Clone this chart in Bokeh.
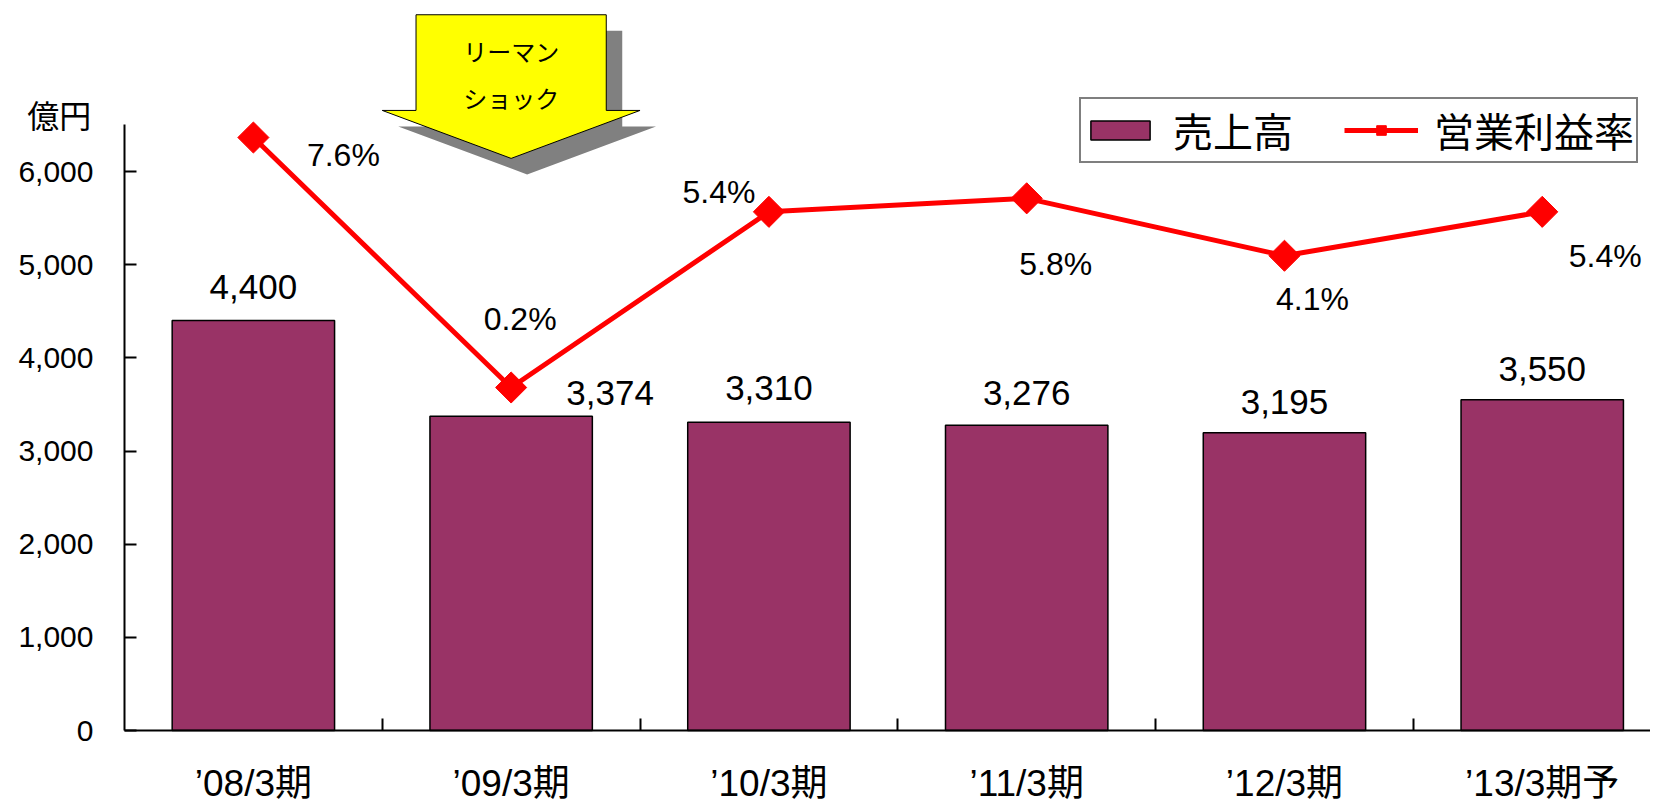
from bokeh.plotting import figure
from bokeh.models import (ColumnDataSource, Range1d, LinearAxis, FixedTicker,
                          NumeralTickFormatter, Legend, LegendItem, Label)
from bokeh.embed import file_html
from bokeh.resources import INLINE
from bokeh.core.properties import value

# ---------------- data ----------------
periods = ["’08/3期", "’09/3期", "’10/3期", "’11/3期", "’12/3期", "’13/3期予"]
sales = [4400, 3374, 3310, 3276, 3195, 3550]          # 売上高 (億円)
op_margin = [7.6, 0.2, 5.4, 5.8, 4.1, 5.4]            # 営業利益率 (%)
y_ticks = [0, 1000, 2000, 3000, 4000, 5000, 6000]
shock_period = "’09/3期"

# ---------------- label placement (styles, not data) ----------------
sales_dx = [0, 99, 0, 0, 0, 0]
sales_dy = [-34, -23, -34, -32, -31, -31]
pct_dx = [90, 9, -50, 29, 28, 63]
pct_dy = [17, -68, -20, 66, 43, 44]

LATIN = "Liberation Sans"
CJK = "Noto Sans CJK JP"

x_idx = list(range(len(periods)))
src = ColumnDataSource(dict(
    x=x_idx, sales=sales, margin=op_margin,
    sales_txt=[f"{v:,}" for v in sales],
    pct_txt=[f"{m}%" for m in op_margin],
    sdx=sales_dx, sdy=sales_dy, pdx=pct_dx, pdy=pct_dy,
))

X0 = -0.5          # left end of the category axis
X_LEFT = -0.981    # frame extends left so the y-axis labels live inside it
X_RIGHT = 5.42

p = figure(width=1650, height=805,
           x_range=Range1d(X_LEFT, X_RIGHT), y_range=Range1d(-805, 7836),
           output_backend="svg", toolbar_location=None,
           x_axis_type=None, y_axis_type=None,
           min_border_left=0, min_border_right=0,
           min_border_top=0, min_border_bottom=0)
p.extra_y_ranges = {"pct": Range1d(-12.174, 11.656)}
p.grid.visible = False
p.outline_line_color = None
p.background_fill_color = "white"

# ---------------- axes ----------------
yaxis = LinearAxis(ticker=FixedTicker(ticks=y_ticks),
                   formatter=NumeralTickFormatter(format="0,0"),
                   bounds=(0, 6500), fixed_location=X0)
yaxis.major_tick_in = 12
yaxis.major_tick_out = 0
yaxis.minor_tick_in = 0
yaxis.minor_tick_out = 0
yaxis.axis_line_width = 2
yaxis.major_tick_line_width = 2
yaxis.major_label_standoff = 31
yaxis.major_label_text_font = LATIN
yaxis.major_label_text_font_size = "30px"
yaxis.major_label_text_color = "black"
p.add_layout(yaxis, "left")

xaxis = LinearAxis(ticker=FixedTicker(ticks=x_idx,
                                      minor_ticks=[i + 0.5 for i in x_idx[:-1]]),
                   major_label_overrides={i: lab for i, lab in zip(x_idx, periods)},
                   bounds=(X0, X_RIGHT), fixed_location=0)
xaxis.major_tick_in = 0
xaxis.major_tick_out = 0
xaxis.minor_tick_in = 12
xaxis.minor_tick_out = 0
xaxis.minor_tick_line_width = 2
xaxis.minor_tick_line_color = "black"
xaxis.axis_line_width = 2
xaxis.major_label_standoff = 32
xaxis.major_label_text_font = f"{LATIN}, '{CJK}'"
xaxis.major_label_text_font_size = "37px"
xaxis.major_label_text_color = "black"
p.add_layout(xaxis, "below")

# ---------------- bars ----------------
bars = p.vbar(x="x", top="sales", width=0.63, source=src,
              fill_color="#993366", line_color="black", line_width=1.5)
p.text(x="x", y="sales", text="sales_txt", source=src,
       x_offset="sdx", y_offset="sdy",
       text_align="center", text_baseline="middle",
       text_font=value(LATIN), text_font_size="35px", text_color="black")

# ---------------- margin line ----------------
line = p.line(x="x", y="margin", source=src, y_range_name="pct",
              line_color="#FF0000", line_width=5)
pts = p.scatter(x="x", y="margin", source=src, y_range_name="pct",
                marker="square", angle=0.785398, size=22,
                fill_color="#FF0000", line_color="#FF0000")
p.text(x="x", y="margin", text="pct_txt", source=src, y_range_name="pct",
       x_offset="pdx", y_offset="pdy",
       text_align="center", text_baseline="middle",
       text_font=value(LATIN), text_font_size="32px", text_color="black")

# ---------------- Lehman shock arrow ----------------
c = periods.index(shock_period)
body_hw, head_hw = 0.369, 0.5
top, neck, tip = 7683, 6656, 6141
ax = [c - body_hw, c + body_hw, c + body_hw, c + head_hw, c, c - head_hw, c - body_hw]
ay = [top, top, neck, neck, tip, neck, neck]
sdx, sdy = 0.062, -172
p.patch([v + sdx for v in ax], [v + sdy for v in ay],
        fill_color="#808080", line_color=None)
p.patch(ax, ay, fill_color="#FFFF00", line_color="black", line_width=1)
for txt, yy in [("リーマン", 7300), ("ショック", 6795)]:
    p.add_layout(Label(x=c, y=yy, text=txt, text_align="center",
                       text_baseline="middle", text_font=CJK,
                       text_font_size="24px", text_color="black"))

# unit label
p.add_layout(Label(x=-0.753, y=6623, text="億円", text_align="center",
                   text_baseline="middle", text_font=CJK,
                   text_font_size="32px", text_color="black"))

# ---------------- legend ----------------
legend = Legend(items=[LegendItem(label="売上高", renderers=[bars]),
                       LegendItem(label="営業利益率", renderers=[line, pts])],
                orientation="horizontal", location=(1079, 642),
                label_text_font=f"{LATIN}, '{CJK}'", label_text_font_size="40px",
                label_text_line_height=1.0,
                label_text_color="black",
                glyph_width=74, glyph_height=24, label_standoff=16,
                spacing=51, padding=2, margin=0,
                border_line_color="black", border_line_width=2,
                background_fill_color="white", background_fill_alpha=1)
p.add_layout(legend)

open("out.html", "w").write(file_html(p, INLINE))
